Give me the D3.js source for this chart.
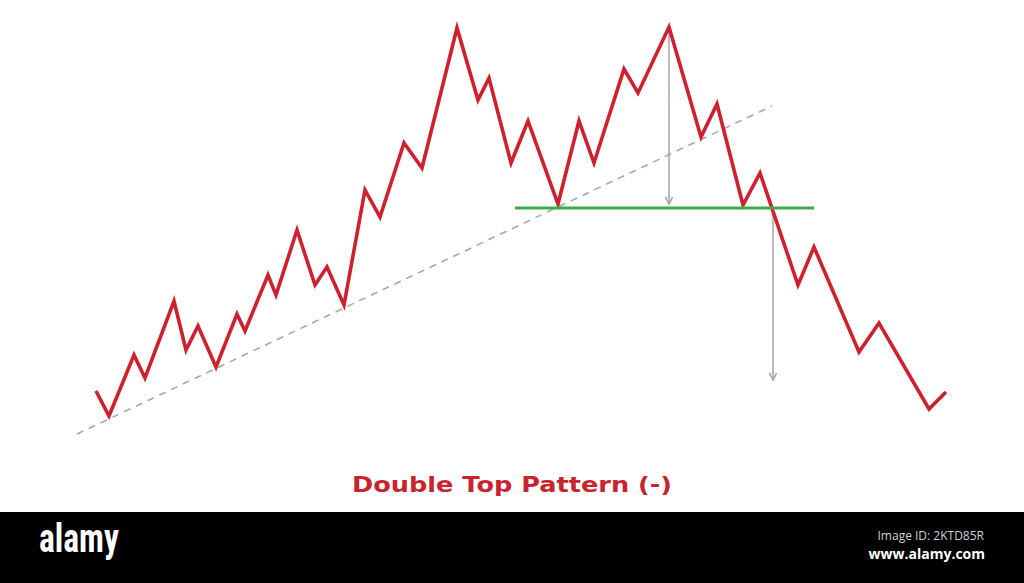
<!DOCTYPE html>
<html>
<head>
<meta charset="utf-8">
<script src="https://cdn.jsdelivr.net/npm/d3@7"></script>
<style>
html,body{margin:0;padding:0;background:#fff;}
svg{display:block;}
</style>
</head>
<body>
<svg id="chart" width="1024" height="583"></svg>
<script>
// ---- data ----
const times  = [96,109,134,145,174,186,198,216,237,245,268,276,297,315,327,344,365,380,404,422,457,478,489,511,528,558,579,594,624,638,669,701,717,743,760,798,814,859,879,929,946];
const prices = [49,24,85,62,139,90,114,73,126,109,165,145,210,155,173,135,250,223,297,272,412,340,362,277,319,236,319,277,371,347,413,303,336,235,267,155,193,88,117,31,48];
const supportLevel = 232;
const supportRange = [515,814];
const trendTimes  = [77,772];
const trendPrices = [6,334];
const arrowTimes  = [669,773];
const arrowFrom   = [412,232];
const arrowTo     = [236,60];
const titleText = "Double Top Pattern (-)";

const svg = d3.select("#chart");
const x = d3.scaleLinear().domain([0,1024]).range([0,1024]);
const y = d3.scaleLinear().domain([0,440]).range([440,0]);

const defs = svg.append("defs");
defs.append("marker").attr("id","arr").attr("viewBox","0 0 10 10")
  .attr("refX",9).attr("refY",5).attr("markerWidth",9).attr("markerHeight",9)
  .attr("markerUnits","userSpaceOnUse").attr("orient","auto")
  .append("path").attr("d","M1,1 L9,5 L1,9").attr("fill","none")
  .attr("stroke","#a9a9a9").attr("stroke-width",1.8);

// trend line dashed
svg.append("line")
  .attr("x1",x(trendTimes[0])).attr("y1",y(trendPrices[0]))
  .attr("x2",x(trendTimes[1])).attr("y2",y(trendPrices[1]))
  .attr("stroke","#a8a8a8").attr("stroke-width",1.6).attr("stroke-dasharray","7,6");

// arrows
arrowTimes.forEach((t,i)=>{
  svg.append("line")
    .attr("x1",x(t)).attr("y1",y(arrowFrom[i]))
    .attr("x2",x(t)).attr("y2",y(arrowTo[i]))
    .attr("stroke","#ababab").attr("stroke-width",1.6)
    .attr("marker-end","url(#arr)");
});

// price line
const line = d3.line().x((d,i)=>x(times[i])).y(d=>y(d));
svg.append("path").datum(prices).attr("d",line)
  .attr("fill","none").attr("stroke","#cf212d").attr("stroke-width",3.6)
  .attr("stroke-linejoin","miter").attr("stroke-miterlimit",10);

// support line
svg.append("line")
  .attr("x1",x(supportRange[0])).attr("y1",y(supportLevel))
  .attr("x2",x(supportRange[1])).attr("y2",y(supportLevel))
  .attr("stroke","#3cad48").attr("stroke-width",3);

// title
svg.append("text").attr("x",512).attr("y",492).attr("text-anchor","middle")
  .attr("font-family","DejaVu Sans, Verdana, sans-serif").attr("font-weight","bold")
  .attr("font-size",22).attr("fill","#c9232d")
  .attr("textLength",320).attr("lengthAdjust","spacingAndGlyphs").text(titleText);

// footer band
svg.append("rect").attr("x",0).attr("y",512).attr("width",1024).attr("height",71).attr("fill","#000");
svg.append("text").attr("x",39).attr("y",552)
  .attr("font-family","Liberation Sans Narrow, Roboto Condensed, Liberation Sans, sans-serif")
  .attr("font-weight","bold").attr("font-size",40).attr("fill","#fff")
  .attr("textLength",80).attr("lengthAdjust","spacingAndGlyphs").text("alamy");
svg.append("text").attr("x",984).attr("y",540).attr("text-anchor","end")
  .attr("font-family","Open Sans, DejaVu Sans, sans-serif").attr("font-size",12).attr("fill","#cfcfcf")
  .text("Image ID: 2KTD85R");
svg.append("text").attr("x",985).attr("y",559).attr("text-anchor","end")
  .attr("font-family","Open Sans, DejaVu Sans, sans-serif").attr("font-weight","bold").attr("font-size",14).attr("fill","#fff")
  .text("www.alamy.com");
</script>
</body>
</html>
